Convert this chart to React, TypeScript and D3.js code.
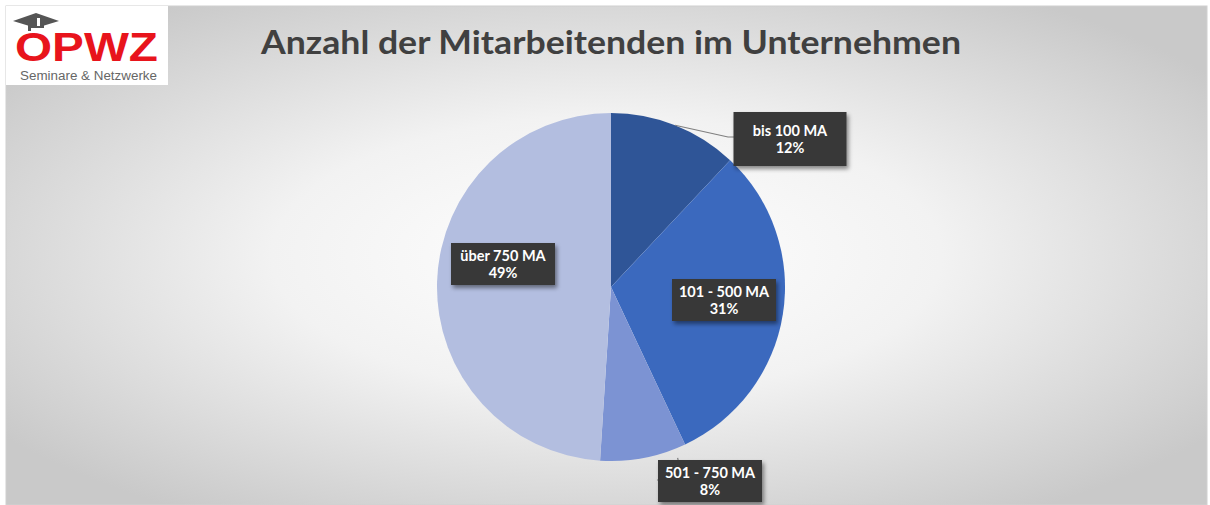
import React from 'react';
import * as d3 from 'd3';

const categories = ['bis 100 MA', '101 - 500 MA', '501 - 750 MA', 'über 750 MA'];
const shares = [12, 31, 8, 49];
const colors = ['#2f5597', '#3b69be', '#7c93d3', '#b3bee0'];

// label box centres relative to pie centre, plus optional leader lines
const labelLayout = [
  { dx: 179, dy: -148, leader: true },
  { dx: 113, dy: 13, leader: false },
  { dx: 99, dy: 194, leader: true },
  { dx: -108, dy: -23, leader: false },
];

const W = 1210;
const H = 505;
const cx = 611;
const cy = 287;
const R = 174;

const App: React.FC = () => {
  const pie = d3.pie<number>().sort(null).value(d => d)(shares);
  const arc = d3.arc<d3.PieArcDatum<number>>().innerRadius(0).outerRadius(R);
  const font = "Lato, 'Open Sans', sans-serif";

  return (
    <svg width={W} height={H} style={{ position: 'absolute', left: 0, top: 0 }}>
      <defs>
        <radialGradient id="bg" cx="0.5" cy="0.5" r="0.62">
          <stop offset="0" stopColor="#ffffff" />
          <stop offset="0.45" stopColor="#f2f2f2" />
          <stop offset="1" stopColor="#c9c9c9" />
        </radialGradient>
        <filter id="sh" x="-20%" y="-20%" width="140%" height="150%">
          <feDropShadow dx="2" dy="3" stdDeviation="2" floodColor="#000" floodOpacity="0.45" />
        </filter>
      </defs>
      <rect x={0} y={0} width={W} height={H} fill="#ffffff" />
      <rect x={6} y={6} width={1201} height={499} fill="url(#bg)" stroke="#d0d0d0" />

      {/* logo */}
      <rect x={6} y={6} width={162} height={79} fill="#ffffff" />
      <g fill="#555">
        <polygon points="13,21 36,13 59,21 36,28" />
        <rect x={30} y={20} width={14} height={8} />
        <rect x={28} y={21} width={3} height={10} />
        <rect x={37} y={18} width={3} height={8} fill="#fff" />
      </g>
      <text x={15} y={61} fontFamily="'Liberation Sans', Arial, sans-serif" fontWeight={700}
        fontSize={40} fill="#e8141c" textLength={143} lengthAdjust="spacingAndGlyphs">OPWZ</text>
      <text x={20} y={80} fontFamily="'Liberation Sans', Arial, sans-serif" fontSize={12}
        fill="#666" textLength={137} lengthAdjust="spacingAndGlyphs">Seminare &amp; Netzwerke</text>

      <text x={611} y={54} textAnchor="middle" fontFamily={font} fontWeight={700} fontSize={32}
        fill="#404040" textLength={700} lengthAdjust="spacingAndGlyphs">
        Anzahl der Mitarbeitenden im Unternehmen
      </text>

      <g transform={`translate(${cx},${cy})`}>
        {pie.map((d, i) => (
          <path key={i} d={arc(d) || ''} fill={colors[i]} />
        ))}
        {pie.map((d, i) => {
          const L = labelLayout[i];
          if (!L.leader) return null;
          const a = (d.startAngle + d.endAngle) / 2;
          const px = Math.sin(a) * R;
          const py = -Math.cos(a) * R;
          const bx = L.dx - 53;
          const by = L.dy;
          const pts = i === 0
            ? [[px, py], [bx - 9, by - 2], [bx, by - 2]]
            : [[px + 34, py], [px + 39, by - 1], [bx, by - 1]];
          return (
            <polyline key={'l' + i} points={pts.map(p => p.join(',')).join(' ')}
              fill="none" stroke="#7f7f7f" strokeWidth={1.2} />
          );
        })}
        {pie.map((d, i) => {
          const L = labelLayout[i];
          const w = i === 0 ? 113 : 104;
          const h = i === 0 ? 54 : 42;
          return (
            <g key={'b' + i} transform={`translate(${L.dx},${L.dy})`}>
              <rect x={-w / 2} y={-h / 2} width={w} height={h} fill="#383838" filter="url(#sh)" />
              <text y={-3} textAnchor="middle" fontFamily={font} fontWeight={700} fontSize={14.5}
                fill="#ffffff">{categories[i]}</text>
              <text y={14} textAnchor="middle" fontFamily={font} fontWeight={700} fontSize={14.5}
                fill="#ffffff">{shares[i]}%</text>
            </g>
          );
        })}
      </g>
    </svg>
  );
};

export default App;
